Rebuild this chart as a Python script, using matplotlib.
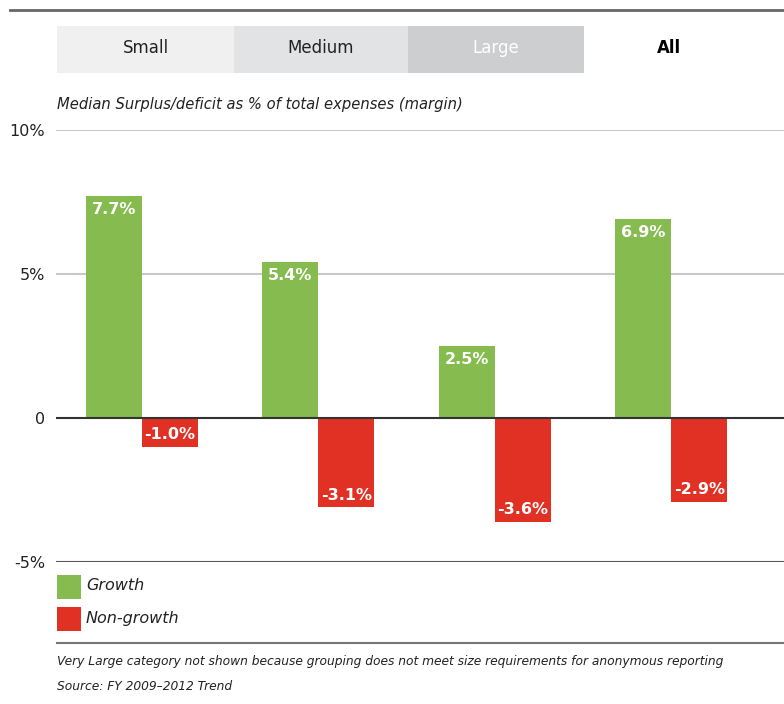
import matplotlib.pyplot as plt
from matplotlib.patches import Rectangle
from matplotlib.lines import Line2D
import numpy as np

plt.rcParams['font.family'] = ['DejaVu Sans']

# Data
groups = ["Small", "Medium", "Large", "All"]
growth = [7.7, 5.4, 2.5, 6.9]
non_growth = [-1.0, -3.1, -3.6, -2.9]
y_ticks = [-5, 0, 5, 10]
y_tick_labels = ["-5%", "0", "5%", "10%"]

green = "#86bc4f"
red = "#e03124"

W, H = 784, 704
fig = plt.figure(figsize=(W / 100, H / 100), dpi=100)


def fx(x):
    return x / W


def fy(y):
    return 1 - y / H


ax = fig.add_axes([fx(56), fy(562), fx(784) - fx(56), fy(130) - fy(562)])

x = np.arange(len(groups))
bw = 0.318
ax.bar(x - bw / 2, growth, bw, color=green, zorder=3)
ax.bar(x + bw / 2, non_growth, bw, color=red, zorder=3)

for xi, g, n in zip(x, growth, non_growth):
    ax.text(xi - bw / 2, g - 0.2, f"{g:.1f}%", ha="center", va="top",
            color="white", fontsize=11.5, fontweight="bold", zorder=4)
    ax.text(xi + bw / 2, n + 0.15, f"{n:.1f}%", ha="center", va="bottom",
            color="white", fontsize=11.5, fontweight="bold", zorder=4)

ax.set_xlim(-0.488, 3.64)
ax.set_ylim(-5, 10)
ax.set_yticks(y_ticks)
ax.set_yticklabels(y_tick_labels, fontsize=11.5, color="#222222")
ax.set_xticks([])
ax.tick_params(axis="y", length=0, pad=8)
for s in ax.spines.values():
    s.set_visible(False)
ax.patch.set_alpha(0)

ax.axhline(10, color="#c8c8c8", lw=1.5, zorder=1)
ax.axhline(5, color="#c8c8c8", lw=1.5, zorder=1)
ax.axhline(0, color="#333333", lw=1.5, zorder=5)
ax.axhline(-5, color="#555555", lw=1.5, zorder=1)

# Header line
fig.add_artist(Line2D([fx(10), fx(784)], [fy(10), fy(10)], color="#666666", lw=2))

# Tabs
tabs = [(57, 234, "#f0f0f0", "#222222"), (234, 408, "#e2e3e4", "#222222"),
        (408, 584, "#cdcecf", "white")]
for (x0, x1, c, tc), name in zip(tabs, groups[:3]):
    fig.add_artist(Rectangle((fx(x0), fy(73)), fx(x1) - fx(x0), fy(26) - fy(73),
                             color=c, lw=0))
    fig.text(fx((x0 + x1) / 2), fy(48), name, ha="center", va="center",
             fontsize=12, color=tc)
fig.text(fx(669), fy(48), groups[3], ha="center", va="center",
         fontsize=12, fontweight="bold", color="black")

fig.text(fx(57), fy(104), "Median Surplus/deficit as % of total expenses (margin)",
         ha="left", va="center", fontsize=10.6, style="italic", color="#222222")

# Legend
for y0, c, label in [(575, green, "Growth"), (607, red, "Non-growth")]:
    fig.add_artist(Rectangle((fx(57), fy(y0 + 24)), fx(81) - fx(57), fy(y0) - fy(y0 + 24),
                             color=c, lw=0))
    fig.text(fx(86), fy(y0 + 11), label, ha="left", va="center",
             fontsize=11.5, style="italic", color="#222222")

fig.add_artist(Line2D([fx(57), fx(784)], [fy(643), fy(643)], color="#777777", lw=1.5))

fig.text(fx(57), fy(662), "Very Large category not shown because grouping does not meet size requirements for anonymous reporting",
         ha="left", va="center", fontsize=8.8, style="italic", color="#222222")
fig.text(fx(57), fy(686), "Source: FY 2009\u20132012 Trend",
         ha="left", va="center", fontsize=8.8, style="italic", color="#222222")

fig.savefig("out.png", dpi=100)
